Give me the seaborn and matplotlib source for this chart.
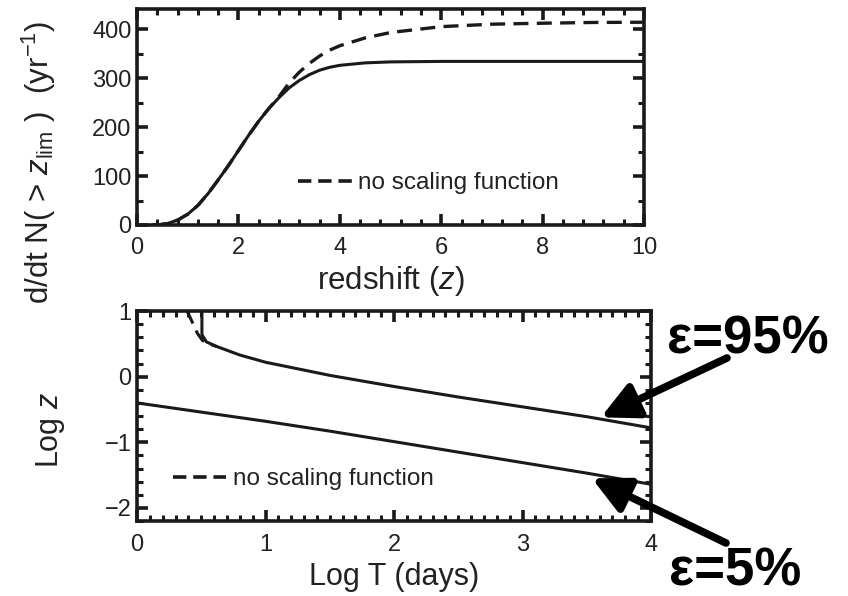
import numpy as np
import pandas as pd
import matplotlib
matplotlib.use("Agg")
import matplotlib.pyplot as plt
from matplotlib.ticker import MultipleLocator
from matplotlib.lines import Line2D
import seaborn as sns

# Upper panel: detection rate above the limiting redshift
redshift = [0.3, 0.4, 0.6, 0.8, 1.0, 1.2, 1.4, 1.6, 1.8, 2.0, 2.2, 2.4, 2.6, 2.8,
            3.0, 3.2, 3.4, 3.6, 3.8, 4.0, 4.5, 5.0, 6.0, 7.0, 8.0, 9.0, 10.0]
rate_scaled = [0, 0, 3, 10, 22, 40, 64, 92, 121, 152, 183, 212, 238, 260,
               280, 295, 307, 316, 322, 326, 331, 333, 334, 334, 334, 334, 334]
rate_noscale = [0, 0, 3, 10, 22, 40, 64, 92, 121, 152, 183, 212, 238, 262,
                290, 312, 330, 345, 357, 366, 382, 393, 405, 410, 412, 413.5, 414]

# Lower panel: limiting redshift vs. duration for two efficiencies
logT_95 = [0.505, 0.505, 0.54, 0.62, 0.8, 1.0, 1.5, 2.0, 2.5, 3.0, 3.5, 4.0]
logz_95 = [1.0, 0.64, 0.53, 0.46, 0.33, 0.22, 0.02, -0.15, -0.31, -0.46, -0.61, -0.78]
logT_95_ns = [0.39, 0.43, 0.47, 0.51, 0.56, 0.62]
logz_95_ns = [1.0, 0.83, 0.66, 0.55, 0.50, 0.46]
logT_5 = [0.0, 0.5, 1.0, 1.5, 2.0, 2.5, 3.0, 3.5, 4.0]
logz_5 = [-0.40, -0.54, -0.68, -0.83, -0.99, -1.15, -1.31, -1.47, -1.64]

eff_labels = ["\u03b5=95%", "\u03b5=5%"]
legend_label = "no scaling function"

sns.set_style("ticks")
plt.rcParams["font.family"] = ["Liberation Sans", "DejaVu Sans"]
plt.rcParams["mathtext.fontset"] = "custom"
plt.rcParams["mathtext.rm"] = "Liberation Sans"
plt.rcParams["mathtext.it"] = "Liberation Sans:italic"

INK = "#1a1a1a"
TXT = "#222222"
DASH = (0, (4.5, 2.5))

fig = plt.figure(figsize=(8.48, 5.96), dpi=100)
ax1 = fig.add_axes([0.1616, 0.6225, 0.5979, 0.3624])
ax2 = fig.add_axes([0.1616, 0.1258, 0.6061, 0.3523])

top = pd.DataFrame({"z": redshift, "scaled": rate_scaled, "noscale": rate_noscale})
sns.lineplot(data=top, x="z", y="noscale", ax=ax1, color=INK, lw=2.4,
             linestyle=DASH, estimator=None, sort=False)
sns.lineplot(data=top, x="z", y="scaled", ax=ax1, color=INK, lw=2.2,
             estimator=None, sort=False)

hi = pd.DataFrame({"t": logT_95, "z": logz_95})
hi_ns = pd.DataFrame({"t": logT_95_ns, "z": logz_95_ns})
lo = pd.DataFrame({"t": logT_5, "z": logz_5})
sns.lineplot(data=hi_ns, x="t", y="z", ax=ax2, color=INK, lw=2.2,
             linestyle=DASH, estimator=None, sort=False)
sns.lineplot(data=hi, x="t", y="z", ax=ax2, color=INK, lw=2.2,
             estimator=None, sort=False)
sns.lineplot(data=lo, x="t", y="z", ax=ax2, color=INK, lw=2.2,
             estimator=None, sort=False)

ax1.set_xlim(0, 10)
ax1.set_ylim(0, 441)
ax1.xaxis.set_major_locator(MultipleLocator(2))
ax1.xaxis.set_minor_locator(MultipleLocator(0.4))
ax1.yaxis.set_major_locator(MultipleLocator(100))
ax1.yaxis.set_minor_locator(MultipleLocator(50))

ax2.set_xlim(0, 4)
ax2.set_ylim(-2.2, 1)
ax2.xaxis.set_major_locator(MultipleLocator(1))
ax2.xaxis.set_minor_locator(MultipleLocator(0.1))
ax2.yaxis.set_major_locator(MultipleLocator(1))
ax2.yaxis.set_minor_locator(MultipleLocator(0.2))
ax2.set_yticks([1, 0, -1, -2])
ax2.set_yticklabels(["1", "0", "\u22121", "\u22122"])

for ax in (ax1, ax2):
    for s in ax.spines.values():
        s.set_linewidth(2.6)
        s.set_color(INK)
        s.set_visible(True)
    ax.tick_params(which="both", direction="in", top=True, right=True,
                   color=INK, labelcolor=TXT, labelsize=17)
    ax.tick_params(which="major", length=8, width=2.6)
    ax.tick_params(which="minor", length=4, width=2.2)
    ax.tick_params(axis="x", which="major", pad=9)
    ax.tick_params(axis="y", which="major", pad=4)
    ax.set_xlabel("")
    ax.set_ylabel("")
    ax.set_facecolor("white")

ax1.set_xlabel("redshift ($z$)", fontsize=22.5, color=TXT, labelpad=3)
ax2.set_xlabel("Log T (days)", fontsize=22, color=TXT, labelpad=5)

fig.text(0.046, 1 - 162 / 596, "d/dt N( > $z_{\\rm lim}$ )  (yr$^{-1}$)",
         rotation=90, ha="center", va="center", fontsize=22.5, color=TXT)
fig.text(0.060, 1 - 430 / 596, "Log $z$", rotation=90, ha="center",
         va="center", fontsize=22, color=TXT)

handle = [Line2D([], [], color=INK, lw=2.6, linestyle=(0, (3.7, 1.9)))]
for ax, anchor in ((ax1, (0.318, 0.194)), (ax2, (0.070, 0.200))):
    ax.legend(handle, [legend_label], loc="center left", bbox_to_anchor=anchor,
              frameon=False, fontsize=17.5, handlelength=2.2, handletextpad=0.25,
              borderpad=0, borderaxespad=0, labelcolor=TXT)

# Efficiency annotations with arrows
arrow = dict(arrowstyle="-|>,head_length=1.1,head_width=0.55", lw=5.5,
             color="black", mutation_scale=20, shrinkA=0, shrinkB=0)
ax2.annotate("", xy=(3.61, -0.62), xycoords="data",
             xytext=(727 / 848, 1 - 358 / 596), textcoords="figure fraction",
             arrowprops=arrow, annotation_clip=False)
ax2.annotate("", xy=(3.54, -1.55), xycoords="data",
             xytext=(726 / 848, 1 - 543 / 596), textcoords="figure fraction",
             arrowprops=arrow, annotation_clip=False)
fig.text(748 / 848, 1 - 340 / 596, eff_labels[0], ha="center", va="center",
         fontsize=38, fontweight="bold", color="black")
fig.text(735 / 848, 1 - 572 / 596, eff_labels[1], ha="center", va="center",
         fontsize=38, fontweight="bold", color="black")

fig.savefig("out.png", dpi=100)
